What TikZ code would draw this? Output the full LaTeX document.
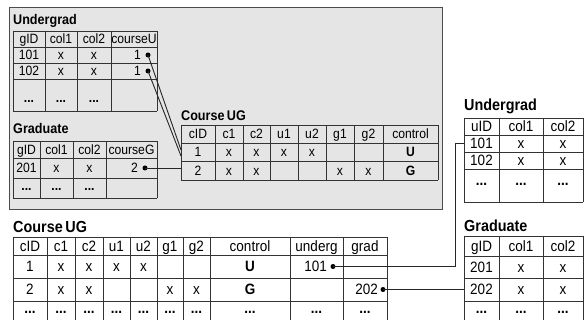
\documentclass[tikz,border=0pt]{standalone}
\usepackage{fontspec}
\setmainfont[FakeStretch=0.9]{Liberation Sans}
\usepackage{xcolor}
\usepackage{tikz}
\definecolor{SchemaGray}{gray}{0.9}
\definecolor{SchemaEdge}{gray}{0.3}
\newcommand{\cellfont}[0]{\fontsize{13.5}{15}\selectfont}
\newcommand{\bigcellfont}[0]{\fontsize{15}{17}\selectfont}
\newcommand{\tabletitle}[0]{\fontsize{14}{16}\selectfont\bfseries}
\newcommand{\bigtabletitle}[0]{\fontsize{16}{18}\selectfont\bfseries}

\begin{document}
\begin{tikzpicture}[x=1pt, y=-1pt,
        gridline/.style={draw=black!80, line width=0.9pt},
        cell/.style={inner sep=0pt, font=\cellfont, text height=9.7pt, text depth=0pt},
        bigcell/.style={inner sep=0pt, font=\bigcellfont, text height=10.7pt, text depth=0pt},
        title/.style={anchor=base west, inner sep=0pt, font=\tabletitle},
        bigtitle/.style={anchor=base west, inner sep=0pt, font=\bigtabletitle},
        pin/.style={circle, fill, inner sep=0pt, minimum size=5pt},
        wire/.style={draw=black!85, line width=0.9pt}]

        \useasboundingbox (0,0) rectangle (584,320);

        % Draw the grey box of the first schema
        \node[draw=SchemaEdge, fill=SchemaGray, line width=1.3pt, inner sep=0pt,
            minimum width=433pt, minimum height=202pt, anchor=north west] (schema) at (9,7) {};

        % Undergrad table in the box
        \node[title] (ugIn) at (13,25) {Undergrad};
        \foreach \x in {13,45,77,111,157}{
            \draw[gridline] (\x,31) -- (\x,111);
        }
        \foreach \y in {31,47,63,79,111}{
            \draw[gridline] (13,\y) -- (157,\y);
        }
        \foreach \t/\x [count=\c] in {gID/29,col1/61,col2/94,courseU/134}{
            \node[cell] (ugIn-h\c) at (\x,39) {\t};
        }
        \foreach \id/\y in {101/55,102/71}{
            \node[cell] (ugIn-\id) at (29,\y) {\id};
            \node[cell] (ugIn-\id-a) at (61,\y) {x};
            \node[cell] (ugIn-\id-b) at (94,\y) {x};
            \node[cell, anchor=east] (ugIn-\id-c) at (141,\y) {1};
            \node[pin] (ugIn-\id-pin) at (148,\y) {};
        }
        \foreach \x [count=\c] in {29,61,94}{
            \node[cell] (ugIn-d\c) at (\x,98) {\textbf{...}};
        }

        % Graduate table in the box
        \node[title] (grIn) at (13,134) {Graduate};
        \foreach \x in {13,40,73,106,157}{
            \draw[gridline] (\x,141) -- (\x,198);
        }
        \foreach \y in {141,158,178,198}{
            \draw[gridline] (13,\y) -- (157,\y);
        }
        \foreach \t/\x [count=\c] in {gID/26.5,col1/56.5,col2/89.5,courseG/131.5}{
            \node[cell] (grIn-h\c) at (\x,149.5) {\t};
        }
        \node[cell] (grIn-201) at (26.5,168) {201};
        \node[cell] (grIn-201-a) at (56.5,168) {x};
        \node[cell] (grIn-201-b) at (89.5,168) {x};
        \node[cell, anchor=east] (grIn-201-c) at (138,168) {2};
        \node[pin] (grIn-201-pin) at (145,168) {};
        \foreach \x [count=\c] in {26.5,56.5,89.5}{
            \node[cell] (grIn-d\c) at (\x,185.5) {\textbf{...}};
        }

        % CourseUG table in the box
        \node[title] (cugIn) at (181,121) {Course\,UG};
        \foreach \x in {181,215,243,270,298,326,354,383,438}{
            \draw[gridline] (\x,125) -- (\x,180);
        }
        \foreach \y in {125,143,161,180}{
            \draw[gridline] (181,\y) -- (438,\y);
        }
        \foreach \t/\x [count=\c] in {cID/198,c1/229,c2/256.5,u1/284,u2/312,g1/340,g2/368.5,control/410.5}{
            \node[cell] (cugIn-h\c) at (\x,134) {\t};
        }
        \foreach \t/\x [count=\c] in {1/198,x/229,x/256.5,x/284,x/312,\textbf{U}/410.5}{
            \node[cell] (cugIn-a\c) at (\x,152) {\t};
        }
        \foreach \t/\x [count=\c] in {2/198,x/229,x/256.5,x/340,x/368.5,\textbf{G}/410.5}{
            \node[cell] (cugIn-b\c) at (\x,170.5) {\t};
        }
        \coordinate (cugIn-in1) at (181,150);
        \coordinate (cugIn-in2) at (181,156);
        \coordinate (cugIn-left) at (181,0);

        % Wires from the course columns to CourseUG
        \draw[wire] (ugIn-101-pin.center) -- (cugIn-in1);
        \draw[wire] (ugIn-102-pin.center) -- (cugIn-in2);
        \draw[wire] (grIn-201-pin.center) -- (grIn-201-pin.center -| cugIn-left);

        % CourseUG table of the second schema
        \node[bigtitle] (cugOut) at (13,233) {Course\,UG};
        \foreach \x in {13,47,75,103,130,157,183,210,290,343,387}{
            \draw[gridline] (\x,237) -- (\x,320);
        }
        \foreach \y in {237,255,278,301}{
            \draw[gridline] (13,\y) -- (387,\y);
        }
        \foreach \t/\x [count=\c] in {cID/30,c1/61,c2/89,u1/116.5,u2/143.5,g1/170,g2/196.5,control/250,underg/316.5,grad/365}{
            \node[bigcell] (cugOut-h\c) at (\x,246) {\t};
        }
        \foreach \t/\x [count=\c] in {1/30,x/61,x/89,x/116.5,x/143.5,\textbf{U}/250}{
            \node[bigcell] (cugOut-a\c) at (\x,266.5) {\t};
        }
        \node[bigcell, anchor=east] (cugOut-101) at (327,266.5) {101};
        \node[pin] (cugOut-101-pin) at (333,266.5) {};
        \foreach \t/\x [count=\c] in {2/30,x/61,x/89,x/170,x/196.5,\textbf{G}/250}{
            \node[bigcell] (cugOut-b\c) at (\x,289.5) {\t};
        }
        \node[bigcell, anchor=east] (cugOut-202) at (378,289.5) {202};
        \node[pin] (cugOut-202-pin) at (383,289.5) {};
        \foreach \x [count=\c] in {30,61,89,116.5,143.5,170,196.5,250,316.5,365}{
            \node[bigcell] (cugOut-d\c) at (\x,308) {\textbf{...}};
        }

        % Undergrad table of the second schema
        \node[bigtitle] (ugOut) at (464,111) {Undergrad};
        \foreach \x in {464,499,543,583}{
            \draw[gridline] (\x,118) -- (\x,202);
        }
        \foreach \y in {118,135,152,169,202}{
            \draw[gridline] (464,\y) -- (583,\y);
        }
        \foreach \t/\x [count=\c] in {uID/481.5,col1/521,col2/563}{
            \node[bigcell] (ugOut-h\c) at (\x,126.5) {\t};
        }
        \foreach \id/\y in {101/143.5,102/160.5}{
            \node[bigcell] (ugOut-\id) at (481.5,\y) {\id};
            \node[bigcell] (ugOut-\id-a) at (521,\y) {x};
            \node[bigcell] (ugOut-\id-b) at (563,\y) {x};
        }
        \foreach \x [count=\c] in {481.5,521,563}{
            \node[bigcell] (ugOut-d\c) at (\x,180.5) {\textbf{...}};
        }
        \coordinate (ugOut-in101) at (464,143.5);
        \coordinate (ugOut-hook) at (455,0);

        % Graduate table of the second schema
        \node[bigtitle] (grOut) at (464,232) {Graduate};
        \foreach \x in {464,499,543,583}{
            \draw[gridline] (\x,236) -- (\x,320);
        }
        \foreach \y in {236,256,278,301}{
            \draw[gridline] (464,\y) -- (583,\y);
        }
        \foreach \t/\x [count=\c] in {gID/481.5,col1/521,col2/563}{
            \node[bigcell] (grOut-h\c) at (\x,246) {\t};
        }
        \foreach \id/\y in {201/267,202/289.5}{
            \node[bigcell] (grOut-\id) at (481.5,\y) {\id};
            \node[bigcell] (grOut-\id-a) at (521,\y) {x};
            \node[bigcell] (grOut-\id-b) at (563,\y) {x};
        }
        \foreach \x [count=\c] in {481.5,521,563}{
            \node[bigcell] (grOut-d\c) at (\x,308) {\textbf{...}};
        }
        \coordinate (grOut-left) at (464,0);

        % Wires from underg and grad to the tables
        \draw[wire] (cugOut-101-pin.center) -- (cugOut-101-pin.center -| ugOut-hook) |- (ugOut-in101);
        \draw[wire] (cugOut-202-pin.center) -- (cugOut-202-pin.center -| grOut-left);
    \end{tikzpicture}
\end{document}
